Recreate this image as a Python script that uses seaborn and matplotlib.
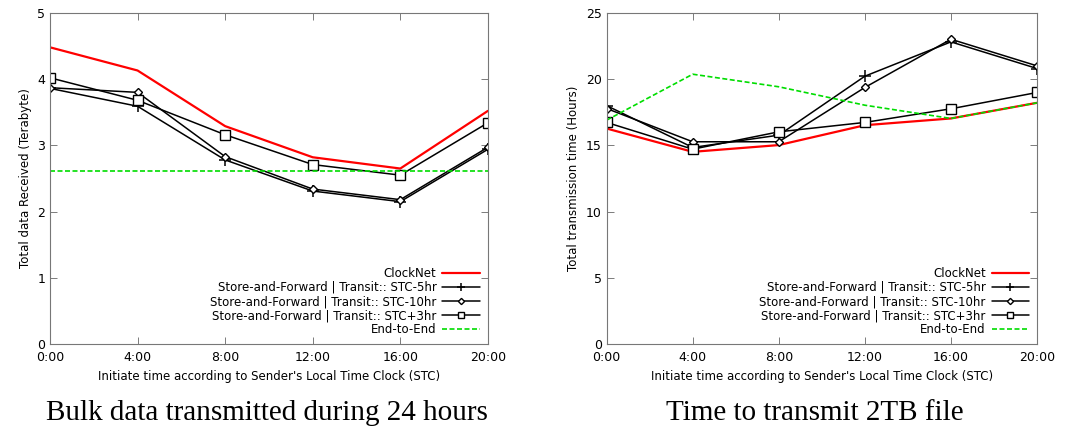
import pandas as pd
import matplotlib.pyplot as plt
import seaborn as sns

# x axis: initiate time (hours)
hours = [0, 4, 8, 12, 16, 20]
hour_labels = ["0:00", "4:00", "8:00", "12:00", "16:00", "20:00"]

series_names = [
    "ClockNet",
    "Store-and-Forward | Transit:: STC-5hr",
    "Store-and-Forward | Transit:: STC-10hr",
    "Store-and-Forward | Transit:: STC+3hr",
    "End-to-End",
]

# left panel: total data received (TB)
bulk_clocknet = [4.48, 4.13, 3.29, 2.82, 2.65, 3.52]
bulk_stc_m5 = [3.86, 3.59, 2.78, 2.31, 2.15, 2.94]
bulk_stc_m10 = [3.87, 3.80, 2.83, 2.34, 2.18, 2.97]
bulk_stc_p3 = [4.02, 3.68, 3.16, 2.71, 2.55, 3.34]
bulk_e2e = [2.61, 2.61, 2.61, 2.61, 2.61, 2.61]

# right panel: total transmission time (hours)
time_clocknet = [16.27, 14.51, 15.02, 16.52, 17.03, 18.21]
time_stc_m5 = [18.0, 14.84, 15.77, 20.22, 22.81, 20.8]
time_stc_m10 = [17.78, 15.27, 15.27, 19.37, 23.01, 21.0]
time_stc_p3 = [16.73, 14.71, 16.02, 16.73, 17.76, 18.99]
time_e2e = [16.9, 20.37, 19.42, 18.03, 17.03, 18.21]

styles = [
    dict(color="#ff0000", marker=None, linestyle="-", lw=1.6),
    dict(color="black", marker="+", linestyle="-", lw=1.1, ms=9, mew=1.1),
    dict(color="black", marker="D", linestyle="-", lw=1.1, ms=4.5, mfc="white", mew=1.0),
    dict(color="black", marker="s", linestyle="-", lw=1.1, ms=7, mfc="white", mew=1.0),
    dict(color="#00dd00", marker=None, linestyle=(0, (3, 1.5)), lw=1.2),
]

sns.set_style("white")
plt.rcParams["font.family"] = ["DejaVu Sans"]
plt.rcParams["text.color"] = "black"
plt.rcParams["axes.labelcolor"] = "black"

fig = plt.figure(figsize=(10.68, 4.29), dpi=100)
ax1 = fig.add_axes([0.0468, 0.198, 0.410, 0.772])
ax2 = fig.add_axes([0.568, 0.198, 0.403, 0.772])


def draw(ax, values, ymax, ystep, ylabel):
    for name, vals, st in zip(series_names, values, styles):
        df = pd.DataFrame({"hour": hours, "value": vals})
        sns.lineplot(data=df, x="hour", y="value", ax=ax, label=name,
                     color=st["color"], marker=st["marker"], linestyle=st["linestyle"],
                     linewidth=st["lw"], markersize=st.get("ms", 6),
                     markerfacecolor=st.get("mfc", st["color"]),
                     markeredgecolor=st["color"], markeredgewidth=st.get("mew", 1.0))
    ax.set_xlim(0, 20)
    ax.set_ylim(0, ymax)
    ax.set_xticks(hours)
    ax.set_xticklabels(hour_labels)
    ax.set_yticks(range(0, ymax + 1, ystep))
    ax.tick_params(direction="in", bottom=True, left=True, top=True, right=True,
                   length=5, width=0.6, colors="#666666", labelcolor="black",
                   labelsize=9)
    ax.tick_params(axis="x", pad=5)
    for sp in ax.spines.values():
        sp.set_color("#777777")
        sp.set_linewidth(0.8)
    ax.set_xlabel("Initiate time according to Sender's Local Time Clock (STC)", fontsize=8.5)
    ax.set_ylabel(ylabel, fontsize=8.5)
    leg = ax.legend(loc="lower right", markerfirst=False, frameon=False, fontsize=8.5,
                    handlelength=3.2, labelspacing=0.1, borderaxespad=0.25,
                    handletextpad=0.5, markerscale=0.7)
    for t in leg.get_texts():
        t.set_ha("right")


draw(ax1, [bulk_clocknet, bulk_stc_m5, bulk_stc_m10, bulk_stc_p3, bulk_e2e], 5, 1,
     "Total data Received (Terabyte)")
draw(ax2, [time_clocknet, time_stc_m5, time_stc_m10, time_stc_p3, time_e2e], 25, 5,
     "Total transmission time (Hours)")

fig.text(0.250, 0.02, "Bulk data transmitted during 24 hours", ha="center",
         family="Liberation Serif", fontsize=21)
fig.text(0.763, 0.02, "Time to transmit 2TB file", ha="center",
         family="Liberation Serif", fontsize=21)

fig.savefig("out.png", dpi=100)
